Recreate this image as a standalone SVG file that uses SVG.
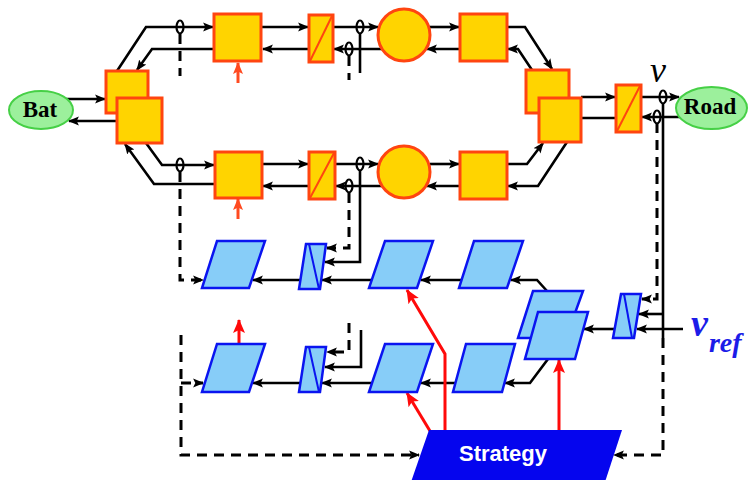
<svg xmlns="http://www.w3.org/2000/svg" width="748" height="480" viewBox="0 0 748 480">
<style>
.y{fill:#ffd400;stroke:#ff4510;stroke-width:3}
.yd{fill:none;stroke:#ff4510;stroke-width:2}
.b{fill:#87cdf8;stroke:#0a14f0;stroke-width:2.5;stroke-linejoin:miter}
.bd{fill:none;stroke:#0a14f0;stroke-width:2}
.g{fill:#9cf09c;stroke:#46d046;stroke-width:2}
.c{fill:none;stroke:#000;stroke-width:2.6;stroke-linejoin:miter}
.a{marker-end:url(#ah)}
.d{fill:none;stroke:#000;stroke-width:3;stroke-dasharray:10 7}
.s{fill:none;stroke:#000;stroke-width:2.2}
.r{fill:none;stroke:#ff0a0a;stroke-width:3;marker-end:url(#rh)}
.o{fill:none;stroke:#ff4a20;stroke-width:3;marker-end:url(#oh)}
.lbl{font-family:"Liberation Serif","Times New Roman",serif;font-weight:bold;font-size:23px;fill:#000}
</style>
<defs>
<marker id="ah" markerUnits="userSpaceOnUse" markerWidth="11" markerHeight="11" viewBox="0 0 10 10" refX="9" refY="5" orient="auto"><path d="M0,1 L10,5 L0,9 L2,5 Z" fill="#000"/></marker>
<marker id="rh" markerUnits="userSpaceOnUse" markerWidth="14" markerHeight="14" viewBox="0 0 14 14" refX="13" refY="7" orient="auto"><path d="M0,1 L14,7 L0,13 L3,7 Z" fill="#ff0a0a"/></marker>
<marker id="oh" markerUnits="userSpaceOnUse" markerWidth="12" markerHeight="12" viewBox="0 0 12 12" refX="11" refY="6" orient="auto"><path d="M0,1 L12,6 L0,11 L2.5,6 Z" fill="#ff4a20"/></marker>
</defs>

<g id="connectors">
<path class="c a" d="M66,99 L105,99"/>
<path class="c a" d="M117,121 L69,121"/>
<path class="c a" d="M117,71 L146,27 L213,27"/>
<path class="c a" d="M214,49 L152,49 L137,70"/>
<path class="c a" d="M146,143 L162,165 L214,165"/>
<path class="c a" d="M215,184 L154,184 L125,144"/>
<path class="c a" d="M261,27 L308,27"/>
<path class="c a" d="M309,49 L263,49"/>
<path class="c a" d="M333,27 L378,27"/>
<path class="c a" d="M382,49 L334,49"/>
<path class="c a" d="M429,27 L459,27"/>
<path class="c a" d="M460,49 L427,49"/>
<path class="c a" d="M507,27 L525,27 L552,69"/>
<path class="c a" d="M532,70 L518,49 L508,49"/>
<path class="c a" d="M262,164 L308,164"/>
<path class="c a" d="M309,186 L263,186"/>
<path class="c a" d="M335,164 L378,164"/>
<path class="c a" d="M382,186 L336,186"/>
<path class="c a" d="M430,164 L459,164"/>
<path class="c a" d="M460,186 L427,186"/>
<path class="c a" d="M507,164 L527,164 L543,143"/>
<path class="c a" d="M567,142 L538,186 L508,186"/>
<path class="c a" d="M581,97 L615,97"/>
<path class="c" d="M616,118 L581,118"/>
<path class="c a" d="M641,97 L679,97"/>
<path class="c a" d="M683,117 L642,117"/>
<path class="d" d="M180,34 L180,76"/>
<path class="c" d="M360,33 L360,73"/>
<path class="d" d="M349,56 L349,80"/>
<path class="d a" d="M180,172 L180,280 L203,280"/>
<path class="c a" d="M360,170 L360,262 L325,262"/>
<path class="d a" d="M349,193 L349,248 L327,248"/>
<path class="d a" d="M349,323 L349,352 L327,352"/>
<path class="c a" d="M361,330 L361,367 L325,367"/>
<path class="c a" d="M462,280 L421,280"/>
<path class="c a" d="M372,280 L322,280"/>
<path class="c a" d="M300,280 L253,280"/>
<path class="c a" d="M547,291 L537,280 L511,280"/>
<path class="c a" d="M548,359 L530,383 L505,383"/>
<path class="c a" d="M455,383 L421,383"/>
<path class="c a" d="M372,383 L322,383"/>
<path class="c a" d="M300,383 L253,383"/>
<path class="d a" d="M181,335 L181,455 L419,455"/>
<path class="d a" d="M181,383 L203,383"/>
<path class="d a" d="M657,123 L657,299 L642,299"/>
<path class="c" d="M663,103 L663,338"/>
<path class="c a" d="M663,314 L639,314"/>
<path class="c a" d="M683,329 L637,329"/>
<path class="c a" d="M616,329 L584,329"/>
<path class="d a" d="M663,338 L663,455 L614,455"/>
<path class="o" d="M238,83 L238,63"/>
<path class="o" d="M238,219 L238,199"/>
<path class="r" d="M239,343 L239,320"/>
<path class="r" d="M430,431 L407,393"/>
<path class="r" d="M445,431 L445,354 L407,290"/>
<path class="r" d="M559,431 L559,360"/>
</g>

<g id="sensors">
<ellipse class="s" cx="180" cy="27" rx="3.5" ry="6.5"/>
<ellipse class="s" cx="180" cy="165" rx="3.5" ry="6.5"/>
<ellipse class="s" cx="360" cy="27" rx="3.5" ry="6.5"/>
<ellipse class="s" cx="349" cy="49" rx="3.5" ry="6.5"/>
<ellipse class="s" cx="360" cy="164" rx="3.5" ry="6.5"/>
<ellipse class="s" cx="349" cy="186" rx="3.5" ry="6.5"/>
<ellipse class="s" cx="663" cy="97" rx="3.5" ry="6.5"/>
<ellipse class="s" cx="657" cy="117" rx="3.5" ry="6.5"/>
</g>

<g id="bat"><ellipse class="g" cx="41" cy="110" rx="32" ry="19"/><text class="lbl" x="40" y="117" text-anchor="middle">Bat</text></g>
<g id="road"><ellipse class="g" cx="711.5" cy="108" rx="35.5" ry="21"/><text class="lbl" x="710" y="114" text-anchor="middle">Road</text></g>

<g id="split-left"><rect class="y" x="106" y="71" width="42" height="42"/><rect class="y" x="117" y="98" width="45" height="45"/></g>
<g id="box-t1"><rect class="y" x="214" y="14" width="47" height="47"/></g>
<g id="conv-t"><rect class="y" x="309" y="15" width="24" height="47"/><line class="yd" x1="310" y1="61" x2="332" y2="16"/></g>
<g id="mach-t"><circle class="y" cx="404" cy="35" r="26"/></g>
<g id="box-t2"><rect class="y" x="460" y="14" width="47" height="47"/></g>
<g id="box-b1"><rect class="y" x="215" y="152" width="47" height="46"/></g>
<g id="conv-b"><rect class="y" x="309" y="152" width="26" height="47"/><line class="yd" x1="310" y1="198" x2="334" y2="153"/></g>
<g id="mach-b"><circle class="y" cx="404" cy="172" r="26"/></g>
<g id="box-b2"><rect class="y" x="460" y="152" width="47" height="47"/></g>
<g id="split-right"><rect class="y" x="526" y="70" width="43" height="43"/><rect class="y" x="539" y="98" width="42" height="44"/></g>
<g id="conv-road"><rect class="y" x="616" y="85" width="25" height="47"/><line class="yd" x1="617" y1="131" x2="640" y2="86"/></g>

<g id="a1"><polygon class="b" points="217,241 265,241 249,288 202,288"/></g>
<g id="b1"><polygon class="b" points="306,244 326,244 320,289 299,289"/><line class="bd" x1="309" y1="244" x2="319" y2="289"/></g>
<g id="c1"><polygon class="b" points="385,241 433,241 417,288 369,288"/></g>
<g id="d1"><polygon class="b" points="474,241 523,241 507,288 459,288"/></g>
<g id="e"><polygon class="b" points="533,291 583,291 566,338 518,338"/><polygon class="b" points="538,312 588,312 575,359 525,359"/></g>
<g id="f"><polygon class="b" points="621,294 641,294 634,338 613,338"/><line class="bd" x1="624" y1="294" x2="632" y2="338"/></g>
<g id="a2"><polygon class="b" points="217,344 265,344 249,392 202,392"/></g>
<g id="b2"><polygon class="b" points="306,347 326,347 320,392 299,392"/><line class="bd" x1="309" y1="347" x2="319" y2="392"/></g>
<g id="c2"><polygon class="b" points="385,344 433,344 417,392 369,392"/></g>
<g id="d2"><polygon class="b" points="466,344 515,344 502,392 453,392"/></g>

<g id="strategy"><polygon points="429,430 622,430 605,482 411,482" fill="#0505ee"/><text x="503" y="461" text-anchor="middle" font-family="'Liberation Sans',Arial,sans-serif" font-weight="bold" font-size="22" fill="#fff">Strategy</text></g>

<g id="labels">
<text x="650" y="82" font-family="'Liberation Serif','Times New Roman',serif" font-style="italic" font-size="36" fill="#000">v</text>
<text x="691" y="336" font-family="'Liberation Serif','Times New Roman',serif" font-style="italic" font-weight="bold" font-size="38" fill="#1c1ce8">v<tspan font-size="28" dx="1" dy="16">ref</tspan></text>
</g>
</svg>
